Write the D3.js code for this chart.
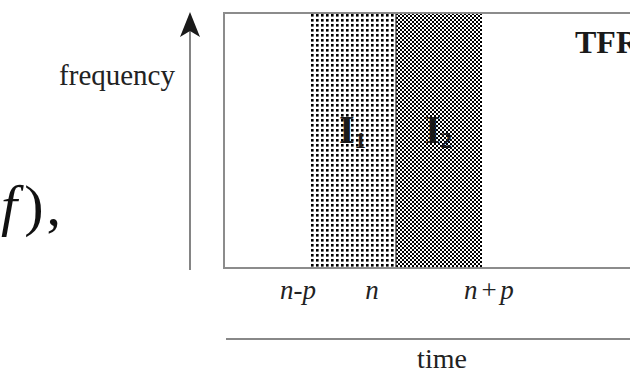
<!DOCTYPE html>
<html>
<head>
<meta charset="utf-8">
<script src="https://cdn.jsdelivr.net/npm/d3@7"></script>
<style>
  html, body { margin: 0; padding: 0; background: #fff; }
  svg { display: block; }
  text { font-family: "Liberation Serif", "Times New Roman", serif; }
</style>
</head>
<body>
<svg id="chart" width="630" height="373"></svg>
<script>
// Time axis runs in units of p, centred on sample n.
const timeDomain = [-2, 3];
const freqDomain = [0, 1];

// Two analysis intervals either side of n.
const intervalSubs = ["1", "2"];
const intervalStart = [-1, 0];
const intervalEnd = [0, 1];
const intervalFill = ["sparse", "dense"];

// Time tick labels and where they sit on the time axis.
const tickLabels = ["n-p", "n", "n+p"];
const tickTimes = [-1.14, -0.28, 1.08];

const svg = d3.select("#chart");
const W = 630, H = 373;

const x = d3.scaleLinear().domain(timeDomain).range([224, 654]);
const y = d3.scaleLinear().domain(freqDomain).range([268, 13]);

// Stipple fills for the two intervals
const defs = svg.append("defs");
const sparse = defs.append("pattern")
  .attr("id", "sparse").attr("patternUnits", "userSpaceOnUse")
  .attr("x", x(-1) + 1).attr("y", y(1) + 1)
  .attr("width", 5).attr("height", 5);
sparse.append("rect").attr("width", 5).attr("height", 5).attr("fill", "#fff");
sparse.append("rect").attr("width", 2.6).attr("height", 2.6).attr("fill", "#000");

const dense = defs.append("pattern")
  .attr("id", "dense").attr("patternUnits", "userSpaceOnUse")
  .attr("x", x(0)).attr("y", y(1))
  .attr("width", 4).attr("height", 4);
dense.append("rect").attr("width", 4).attr("height", 4).attr("fill", "#fff");
dense.append("rect").attr("width", 2).attr("height", 2).attr("fill", "#000")
  .attr("shape-rendering", "crispEdges");
dense.append("rect").attr("x", 2).attr("y", 2).attr("width", 2).attr("height", 2).attr("fill", "#000")
  .attr("shape-rendering", "crispEdges");

// Interval bands spanning the whole frequency range
const idx = d3.range(intervalSubs.length);
svg.append("g").selectAll("rect").data(idx).join("rect")
  .attr("x", i => x(intervalStart[i]))
  .attr("y", y(freqDomain[1]))
  .attr("width", i => x(intervalEnd[i]) - x(intervalStart[i]))
  .attr("height", y(freqDomain[0]) - y(freqDomain[1]))
  .attr("fill", i => `url(#${intervalFill[i]})`);

// Boundary between the intervals
svg.append("line")
  .attr("x1", x(0)).attr("x2", x(0))
  .attr("y1", y(1)).attr("y2", y(0))
  .attr("stroke", "#222").attr("stroke-width", 1.2);

// Plane frame
svg.append("rect")
  .attr("x", x(timeDomain[0])).attr("y", y(freqDomain[1]))
  .attr("width", x(timeDomain[1]) - x(timeDomain[0]))
  .attr("height", y(freqDomain[0]) - y(freqDomain[1]))
  .attr("fill", "none").attr("stroke", "#8c8c8c").attr("stroke-width", 2);

// Interval labels I₁, I₂
const lab = svg.append("g").selectAll("text").data(idx).join("text")
  .attr("x", i => x((intervalStart[i] + intervalEnd[i]) / 2) - 14)
  .attr("y", 143)
  .attr("font-weight", "bold")
  .attr("fill", "#1a1a1a");
lab.append("tspan").attr("font-size", 40).text("I");
lab.append("tspan").attr("font-size", 23).attr("dy", 5).text(i => intervalSubs[i]);

// Label inside the plane
svg.append("text")
  .attr("x", 575).attr("y", 53)
  .attr("font-size", 32).attr("font-weight", "bold")
  .attr("fill", "#1a1a1a")
  .text("TFR");

// Frequency arrow
const ax = 190;
svg.append("line")
  .attr("x1", ax).attr("x2", ax).attr("y1", 270).attr("y2", 30)
  .attr("stroke", "#666").attr("stroke-width", 1.6);
svg.append("path")
  .attr("d", d3.line()([[ax, 12], [ax + 10, 37], [ax, 31], [ax - 10, 37]]) + "Z")
  .attr("fill", "#1a1a1a");

svg.append("text")
  .attr("x", 175).attr("y", 85)
  .attr("text-anchor", "end")
  .attr("font-size", 29).attr("fill", "#222")
  .text("frequency");

// Time ticks
svg.append("g").selectAll("text").data(tickLabels).join("text")
  .attr("x", (d, i) => x(tickTimes[i]))
  .attr("y", 299)
  .attr("text-anchor", "middle")
  .attr("font-size", 27).attr("font-style", "italic")
  .attr("fill", "#222")
  .text(d => d.replace("+", "\u200a+\u200a"));

// Time axis rule
svg.append("line")
  .attr("x1", 226).attr("x2", W + 10)
  .attr("y1", 339).attr("y2", 339)
  .attr("stroke", "#888").attr("stroke-width", 2);

svg.append("text")
  .attr("x", 442).attr("y", 368)
  .attr("text-anchor", "middle")
  .attr("font-size", 28).attr("fill", "#222")
  .text("time");

// Tail of the preceding formula
const formula = svg.append("text")
  .attr("x", 1).attr("y", 225)
  .attr("font-size", 58).attr("fill", "#111");
formula.append("tspan").attr("font-style", "italic").text("f");
formula.append("tspan").attr("dx", 7).text(")");
formula.append("tspan").attr("dx", 3).text(",");
</script>
</body>
</html>
